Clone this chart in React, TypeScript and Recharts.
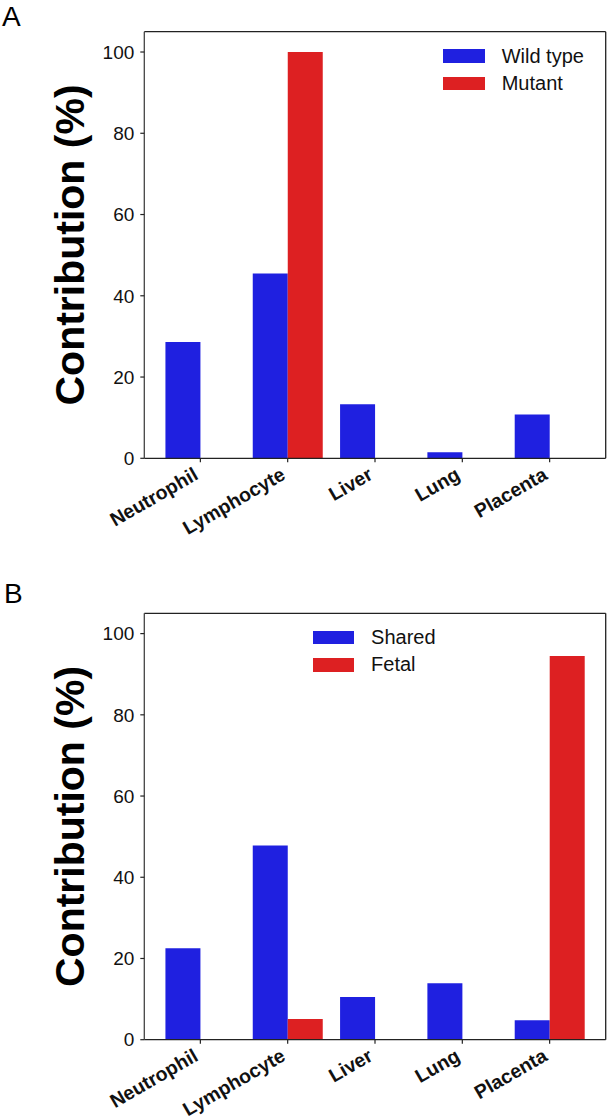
import { BarChart, Bar, XAxis, YAxis, Legend } from "recharts";

const tissues = ["Neutrophil", "Lymphocyte", "Liver", "Lung", "Placenta"];
const wildType = [28.6, 45.5, 13.3, 1.5, 10.8];
const mutant = [0, 100, 0, 0, 0];
const shared = [22.5, 47.8, 10.5, 13.9, 4.8];
const fetal = [0, 5.1, 0, 0, 94.5];
const yTicks = [0, 20, 40, 60, 80, 100];
const yMax = 105;

const BLUE = "#1f20e0";
const RED = "#dd2022";
const AXIS = "#222";
const FONT = "'Liberation Sans', Arial, Helvetica, sans-serif";

const XTick = (props: any) => {
  const { x, y, payload } = props;
  const ax = x - 1;
  const ay = y + 14;
  return (
    <text
      x={ax}
      y={ay}
      textAnchor="end"
      transform={`rotate(-30, ${ax}, ${ay})`}
      fontFamily={FONT}
      fontWeight="bold"
      fontSize={19.5}
      fill="#111"
    >
      {payload.value}
    </text>
  );
};

type PanelProps = {
  top: number;
  marginTop: number;
  xHeight: number;
  names: [string, string];
  first: number[];
  second: number[];
  legendLeft: number;
  legendTop: number;
};

function Panel({ top, marginTop, xHeight, names, first, second, legendLeft, legendTop }: PanelProps) {
  const data = tissues.map((name, i) => ({ name, a: first[i], b: second[i] }));
  const items = [
    { name: names[0], color: BLUE },
    { name: names[1], color: RED },
  ];
  return (
    <div style={{ position: "absolute", left: 0, top }}>
      <BarChart
        width={608}
        height={560}
        data={data}
        margin={{ top: marginTop - 1, right: 1.3, bottom: 0, left: 0 }}
        barCategoryGap="10%"
        barGap={0}
      >
        <XAxis
          dataKey="name"
          interval={0}
          height={xHeight}
          padding={{ left: 12.4, right: 12.4 }}
          tickSize={4}
          tickLine={{ stroke: AXIS, strokeWidth: 1.2 }}
          axisLine={{ stroke: AXIS, strokeWidth: 1.3 }}
          tick={<XTick />}
        />
        <XAxis
          xAxisId="top"
          orientation="top"
          dataKey="name"
          height={1}
          tick={false}
          tickLine={false}
          axisLine={{ stroke: AXIS, strokeWidth: 1.3 }}
        />
        <YAxis
          width={144.3}
          domain={[0, yMax]}
          ticks={yTicks}
          allowDataOverflow
          tickSize={4}
          tickMargin={6}
          tickLine={{ stroke: AXIS, strokeWidth: 1.2 }}
          axisLine={{ stroke: "#444", strokeWidth: 1.3 }}
          tick={{ fontSize: 19, fill: "#111", fontFamily: FONT }}
          label={{
            value: "Contribution (%)",
            angle: -90,
            position: "center",
            dx: -3,
            style: { fontSize: 41, fontWeight: "bold", fill: "#000", fontFamily: FONT },
          }}
        />
        <YAxis
          yAxisId="right"
          orientation="right"
          width={1}
          domain={[0, yMax]}
          tick={false}
          tickLine={false}
          axisLine={{ stroke: AXIS, strokeWidth: 1.3 }}
        />
        <Legend
          layout="vertical"
          align="center"
          verticalAlign="middle"
          wrapperStyle={{ left: legendLeft, top: legendTop, width: "auto", height: "auto" }}
          content={() => (
            <div style={{ fontFamily: FONT, fontSize: 20, color: "#111" }}>
              {items.map((it) => (
                <div key={it.name} style={{ display: "flex", alignItems: "center", height: 27.3 }}>
                  <span
                    style={{
                      display: "inline-block",
                      width: 41.7,
                      height: 13.3,
                      background: it.color,
                      marginRight: 16.7,
                    }}
                  />
                  <span>{it.name}</span>
                </div>
              ))}
            </div>
          )}
        />
        <Bar dataKey="a" name={names[0]} fill={BLUE} isAnimationActive={false} />
        <Bar dataKey="b" name={names[1]} fill={RED} isAnimationActive={false} />
      </BarChart>
    </div>
  );
}

export default function App() {
  return (
    <div style={{ position: "absolute", left: 0, top: 0, width: 608, height: 1120, background: "#fff" }}>
      <Panel
        top={0}
        marginTop={31.7}
        xHeight={101.7}
        names={["Wild type", "Mutant"]}
        first={wildType}
        second={mutant}
        legendLeft={443.3}
        legendTop={42.4}
      />
      <Panel
        top={560}
        marginTop={53.3}
        xHeight={80.3}
        names={["Shared", "Fetal"]}
        first={shared}
        second={fetal}
        legendLeft={312.7}
        legendTop={64}
      />
      <svg
        width={608}
        height={1120}
        style={{ position: "absolute", left: 0, top: 0, pointerEvents: "none" }}
      >
        <text x={2} y={25.5} fontSize={28} fontFamily={FONT} fill="#000">
          A
        </text>
        <text x={4} y={602.5} fontSize={28} fontFamily={FONT} fill="#000">
          B
        </text>
      </svg>
    </div>
  );
}
